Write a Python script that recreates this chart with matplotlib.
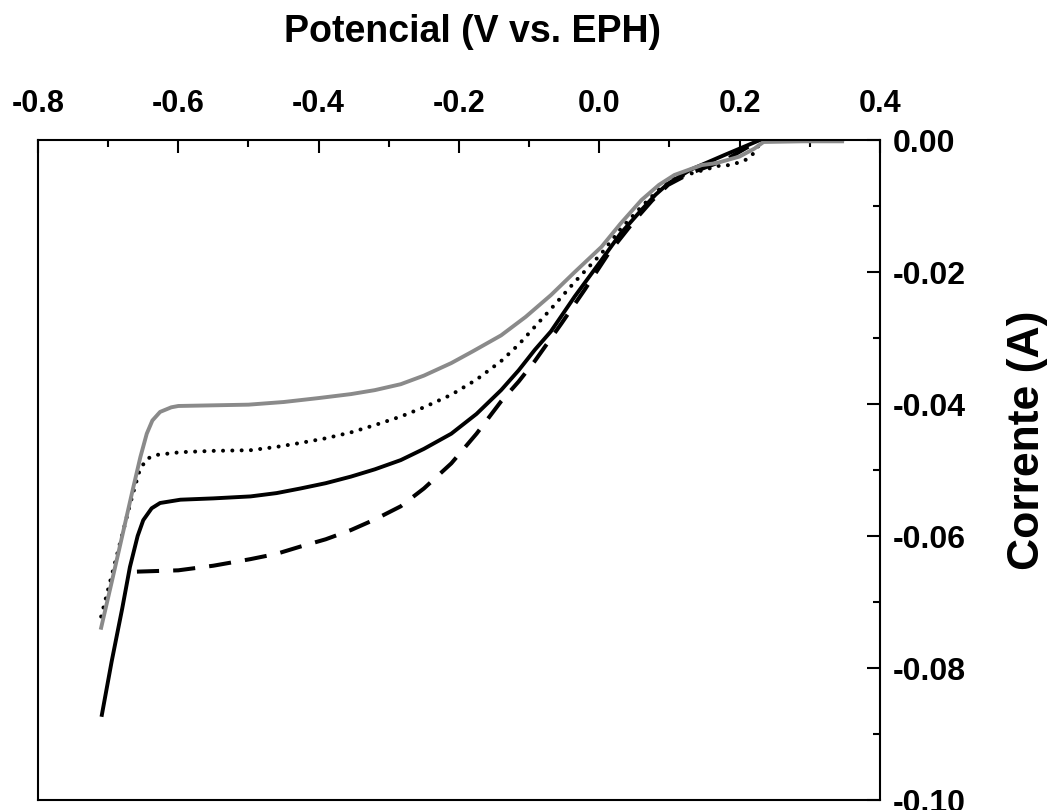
# Voltametria linear: quatro curvas corrente x potencial (eixos no topo / direita)
import numpy as np
import matplotlib
matplotlib.use("Agg")
import matplotlib.pyplot as plt
from matplotlib.ticker import MultipleLocator, FuncFormatter

plt.rcParams["font.family"] = ["Liberation Sans", "DejaVu Sans"]
plt.rcParams["font.weight"] = "bold"
plt.rcParams["axes.unicode_minus"] = False

# curva cinza (contínua)
X_GRAY = [-0.710, -0.695, -0.680, -0.665, -0.654, -0.645, -0.637, -0.626, -0.610,
          -0.600, -0.550, -0.500, -0.450, -0.400, -0.354, -0.320, -0.283, -0.250,
          -0.211, -0.180, -0.140, -0.105, -0.069, -0.035, 0.003, 0.030, 0.060,
          0.085, 0.107, 0.146, 0.167, 0.200, 0.221, 0.234, 0.290, 0.346]
Y_GRAY = [-0.0739, -0.0670, -0.0600, -0.0530, -0.0480, -0.0445, -0.0425, -0.0412, -0.0405,
          -0.0403, -0.0402, -0.0401, -0.0397, -0.0391, -0.0385, -0.0379, -0.0370, -0.0357,
          -0.0338, -0.0320, -0.0296, -0.0268, -0.0235, -0.0200, -0.0162, -0.0127, -0.0091,
          -0.0068, -0.0053, -0.0038, -0.0035, -0.0025, -0.0013, -0.0003, -0.0002, -0.0002]

# curva preta contínua
X_SOLID = [-0.709, -0.695, -0.680, -0.669, -0.658, -0.650, -0.638, -0.626, -0.597,
           -0.550, -0.497, -0.460, -0.426, -0.390, -0.354, -0.320, -0.283, -0.250,
           -0.211, -0.175, -0.140, -0.115, -0.092, -0.069, -0.035, 0.003, 0.030,
           0.060, 0.080, 0.098, 0.130, 0.180, 0.229, 0.346]
Y_SOLID = [-0.0871, -0.0790, -0.0710, -0.0647, -0.0600, -0.0576, -0.0558, -0.0550, -0.0545,
           -0.0543, -0.0540, -0.0535, -0.0528, -0.0520, -0.0510, -0.0499, -0.0485, -0.0468,
           -0.0445, -0.0415, -0.0379, -0.0349, -0.0318, -0.0290, -0.0237, -0.0182, -0.0142,
           -0.0106, -0.0083, -0.0066, -0.0045, -0.0022, 0.0, 0.0]

# curva tracejada
X_DASH = [-0.659, -0.600, -0.550, -0.497, -0.460, -0.426, -0.390, -0.354, -0.320,
          -0.283, -0.250, -0.211, -0.175, -0.140, -0.115, -0.092, -0.054, -0.021,
          0.013, 0.051, 0.075, 0.098, 0.130, 0.180, 0.229, 0.346]
Y_DASH = [-0.0654, -0.0652, -0.0645, -0.0635, -0.0627, -0.0616, -0.0605, -0.0591, -0.0575,
          -0.0555, -0.0528, -0.0490, -0.0445, -0.0396, -0.0366, -0.0335, -0.0278, -0.0227,
          -0.0172, -0.0121, -0.0092, -0.0068, -0.0050, -0.0030, 0.0, 0.0]

# curva pontilhada
X_DOT = [-0.710, -0.695, -0.680, -0.665, -0.655, -0.645, -0.630, -0.597, -0.550,
         -0.497, -0.460, -0.426, -0.390, -0.354, -0.320, -0.283, -0.250, -0.211,
         -0.175, -0.140, -0.115, -0.092, -0.069, -0.035, 0.003, 0.030, 0.060, 0.085,
         0.107, 0.150, 0.171, 0.186, 0.199, 0.211, 0.221, 0.226, 0.232, 0.346]
Y_DOT = [-0.0722, -0.0660, -0.0598, -0.0537, -0.0500, -0.0483, -0.0477, -0.0473, -0.0471,
         -0.0470, -0.0465, -0.0459, -0.0452, -0.0443, -0.0432, -0.0419, -0.0405, -0.0386,
         -0.0363, -0.0335, -0.0310, -0.0283, -0.0256, -0.0215, -0.0172, -0.0135, -0.0101, -0.0075,
         -0.0058, -0.0045, -0.0039, -0.0038, -0.0034, -0.0029, -0.0019, -0.0010, 0.0, 0.0]

GRAY = "#8a8a8a"
W_PX, H_PX = 1048, 810


def fmt(v, nd):
    s = f"{v:.{nd}f}"
    return s[1:] if s.startswith("-") and float(s) == 0 else s


def main():
    fig = plt.figure(figsize=(W_PX / 100, H_PX / 100), dpi=100)
    ax = fig.add_axes([38 / W_PX, 1 - 800 / H_PX, (880 - 38) / W_PX, (800 - 140) / H_PX])

    ax.plot(X_DASH, Y_DASH, color="black", lw=2.9, ls=(0, (5.5, 3.5)))
    ax.plot(X_DOT, Y_DOT, color="black", lw=2.9, ls=(0, (0.01, 2.3)),
            dash_capstyle="round")
    ax.plot(X_SOLID, Y_SOLID, color="black", lw=2.8, solid_joinstyle="round")
    ax.plot(X_GRAY, Y_GRAY, color=GRAY, lw=2.8, solid_joinstyle="round")

    ax.set_xlim(-0.8, 0.4)
    ax.set_ylim(-0.10, 0.0)
    ax.xaxis.tick_top()
    ax.yaxis.tick_right()
    ax.xaxis.set_major_locator(MultipleLocator(0.2))
    ax.xaxis.set_minor_locator(MultipleLocator(0.1))
    ax.yaxis.set_major_locator(MultipleLocator(0.02))
    ax.yaxis.set_minor_locator(MultipleLocator(0.01))
    ax.xaxis.set_major_formatter(FuncFormatter(lambda v, p: fmt(v, 1)))
    ax.yaxis.set_major_formatter(FuncFormatter(lambda v, p: fmt(v, 2)))
    ax.tick_params(which="both", direction="in", width=1.5)
    ax.tick_params(which="major", length=9.5)
    ax.tick_params(which="minor", length=5)
    ax.tick_params(axis="x", which="major", labelsize=22, pad=15)
    ax.tick_params(axis="y", which="major", labelsize=23, pad=9)
    for lab in ax.get_xticklabels() + ax.get_yticklabels():
        lab.set_fontweight("bold")
    for s in ax.spines.values():
        s.set_linewidth(1.5)

    fig.text(472 / W_PX, 1 - 42 / H_PX, "Potencial (V vs. EPH)", ha="center",
             va="baseline", fontsize=27, fontweight="bold")
    fig.text(1027 / W_PX, 1 - 440 / H_PX, "Corrente (A)", ha="center", va="center",
             rotation=90, fontsize=32, fontweight="bold")

    fig.savefig("out.png", dpi=100)
    plt.close(fig)


if __name__ == "__main__":
    main()
